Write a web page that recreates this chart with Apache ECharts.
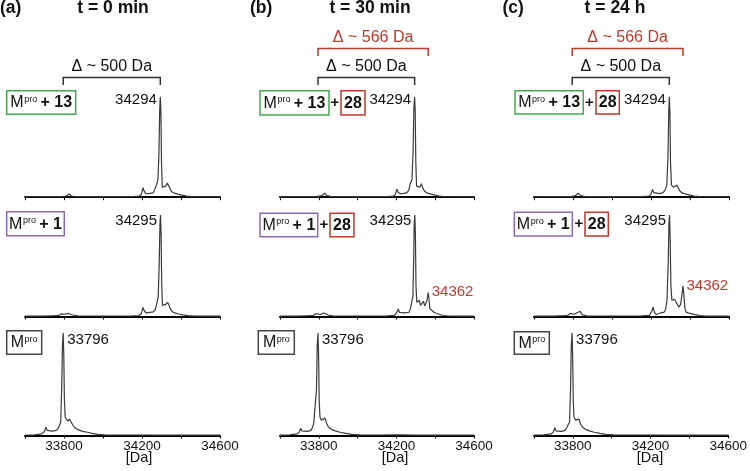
<!DOCTYPE html>
<html><head><meta charset="utf-8">
<script src="https://cdn.jsdelivr.net/npm/echarts@6/dist/echarts.min.js"></script>
<style>html,body{margin:0;padding:0;background:#fff}#c{width:750px;height:471px}</style>
</head><body><div id="c"></div><script>
// ---------- data ----------
const massMin = 33600, massMax = 34600, massStep = 200;
const massTickLabels = [33800, 34200, 34600];
const panelLetters = ['(a)', '(b)', '(c)'];
const columnTitles = ['t = 0 min', 't = 30 min', 't = 24 h'];
const mainPeakMasses = [34294, 34295, 33796];
const sidePeakMass = 34364;
const sidePeakLabel = '34362';
const delta500 = 'Δ ~ 500 Da';
const delta566 = 'Δ ~ 566 Da';

// t = 0 min
const specA1 = [[33600,0.4],[33700,0.5],[33790,0.6],[33812,1.2],[33826,3.2],[33838,1.2],[33860,0.6],[33950,0.5],[34050,0.5],[34150,0.6],[34185,1],[34197,3],[34205,9.5],[34211,6],[34220,3.5],[34240,3.8],[34258,4.3],[34268,6],[34276,13],[34282,18],[34287,45],[34291,88],[34294,100],[34297,85],[34300,35],[34304,10],[34312,9],[34322,11],[34330,14],[34336,13],[34343,9],[34352,5.5],[34366,4],[34385,3],[34405,2],[34430,1],[34460,0.5],[34520,0.4],[34600,0.3]];
const specA2 = [[33600,0.4],[33700,0.5],[33770,0.8],[33785,2.5],[33792,3.5],[33805,2.2],[33822,3],[33832,3.5],[33845,1.5],[33870,0.7],[33950,0.5],[34050,0.5],[34150,0.6],[34185,1],[34197,3],[34205,9],[34211,6],[34220,3.5],[34240,4],[34258,4.5],[34268,6.5],[34277,14],[34283,19],[34288,50],[34292,90],[34295,100],[34298,82],[34301,33],[34305,11],[34313,10],[34322,12],[34331,14],[34337,12],[34344,8],[34354,5],[34368,3.5],[34388,2.5],[34410,1.6],[34435,0.8],[34470,0.5],[34600,0.3]];
const specA3 = [[33600,0.4],[33650,0.7],[33685,1.5],[33700,4],[33708,8],[33714,5],[33722,3.8],[33740,4.2],[33760,5],[33770,7],[33777,10],[33783,13],[33788,45],[33792,88],[33796,100],[33799,78],[33802,35],[33806,18],[33812,16],[33820,14],[33828,16],[33838,15],[33846,10],[33858,7],[33875,5.5],[33895,4],[33920,3.2],[33945,2],[33975,1.1],[34010,0.6],[34100,0.5],[34200,0.5],[34300,0.4],[34600,0.3]];
// t = 30 min
const specB1 = [[33600,0.4],[33700,0.5],[33790,0.6],[33815,1.5],[33830,4],[33842,1.5],[33865,0.6],[33950,0.5],[34050,0.5],[34150,0.6],[34185,1],[34195,3],[34202,8],[34209,5],[34220,3.5],[34240,3.8],[34254,4.5],[34264,7],[34272,14],[34280,17],[34286,45],[34290,88],[34294,100],[34297,85],[34300,35],[34304,11],[34313,12.5],[34321,10],[34329,13.5],[34336,9],[34345,6],[34360,4],[34380,3],[34400,2],[34420,1],[34450,0.5],[34600,0.3]];
const specB2 = [[33600,0.4],[33700,0.5],[33770,0.8],[33785,2.8],[33795,3.5],[33808,2],[33825,3.5],[33835,4],[33848,1.5],[33870,0.7],[33950,0.5],[34050,0.5],[34150,0.6],[34190,1.2],[34202,4],[34210,7.5],[34216,4],[34224,2.8],[34245,3.5],[34265,4.2],[34273,8],[34279,14],[34285,20],[34289,55],[34292,92],[34295,100],[34298,80],[34301,30],[34305,14],[34310,13],[34318,16],[34324,11],[34330,11],[34339,15],[34346,10.5],[34352,10],[34358,16],[34364,23.5],[34368,18],[34372,8],[34379,6.5],[34395,4],[34416,2.5],[34440,1],[34470,0.5],[34600,0.3]];
const specB3 = [[33600,0.4],[33650,0.7],[33688,1.5],[33700,3.5],[33707,7],[33713,4.5],[33722,3.5],[33742,4],[33760,5],[33768,8],[33774,12],[33782,13],[33788,45],[33792,88],[33796,100],[33799,78],[33802,35],[33806,18],[33814,15],[33824,16],[33832,17],[33840,12],[33850,8],[33865,6],[33885,4.5],[33910,3.2],[33940,2],[33970,1.1],[34010,0.6],[34100,0.5],[34195,0.6],[34205,1.5],[34215,0.6],[34300,0.4],[34600,0.3]];
// t = 24 h
const specC1 = [[33600,0.4],[33700,0.5],[33790,0.6],[33812,1.5],[33827,4],[33840,1.5],[33862,0.6],[33950,0.5],[34050,0.5],[34150,0.6],[34190,1],[34200,3],[34208,7.7],[34215,4.5],[34225,3.2],[34245,3.5],[34262,4.5],[34272,7],[34281,12],[34287,40],[34291,85],[34294,100],[34297,85],[34300,35],[34305,12],[34315,10],[34324,11],[34332,12],[34340,9],[34349,6],[34362,4],[34380,3],[34400,2],[34420,1],[34450,0.5],[34600,0.3]];
const specC2 = [[33600,0.4],[33700,0.5],[33770,0.8],[33786,3],[33794,4],[33806,2.2],[33824,4],[33836,5],[33848,1.6],[33870,0.7],[33950,0.5],[34050,0.5],[34150,0.6],[34192,1.2],[34203,5],[34211,9.3],[34218,4],[34226,2],[34250,3.5],[34268,4.3],[34276,8],[34282,16],[34288,50],[34292,92],[34295,100],[34298,80],[34302,30],[34307,16],[34313,16],[34320,17],[34328,18.7],[34335,12],[34342,9.3],[34352,12],[34359,22],[34364,30],[34369,20],[34374,8],[34380,4.3],[34400,3],[34425,1.8],[34451,1],[34480,0.5],[34600,0.3]];
const specC3 = [[33600,0.4],[33650,0.7],[33688,1.5],[33700,3.5],[33707,7.5],[33713,4.5],[33722,3.5],[33742,4],[33760,5],[33770,8],[33777,11],[33783,13],[33788,45],[33792,88],[33796,100],[33799,78],[33802,35],[33806,18],[33814,15],[33824,15],[33832,16],[33840,11],[33850,8],[33865,6],[33885,4.5],[33910,3.2],[33940,2],[33970,1.1],[34010,0.6],[34100,0.5],[34200,0.5],[34300,0.4],[34600,0.3]];

const spectra = [[specA1, specA2, specA3], [specB1, specB2, specB3], [specC1, specC2, specC3]];

// ---------- layout ----------
const F = 'Liberation Sans, Arial, Helvetica, sans-serif';
const colLeft = [25, 280, 534];
const colWidth = [195, 194, 195];
const rowTop = [96.7, 215, 333];
const rowHeight = [100.5, 101.5, 102.5];
const RED = '#c0392b', GREEN = '#43a84f', PURPLE = '#8a68b8', GREY = '#444';

const chart = echarts.init(document.getElementById('c'), null, {renderer: 'canvas'});
const grids = [], xAxes = [], yAxes = [], series = [];
for (let c = 0; c < 3; c++) {
  for (let r = 0; r < 3; r++) {
    const i = c * 3 + r;
    grids.push({left: colLeft[c], top: rowTop[r], width: colWidth[c], height: rowHeight[r], containLabel: false});
    xAxes.push({
      type: 'value', gridIndex: i, min: massMin, max: massMax, interval: massStep,
      axisLine: {show: true, onZero: false, lineStyle: {color: '#000', width: 2}},
      axisTick: {show: true, inside: false, length: 3, lineStyle: {color: '#000', width: 1}},
      splitLine: {show: false},
      axisLabel: {show: r === 2, margin: 4, color: '#111', fontSize: 13.5, fontFamily: F,
        showMinLabel: true, showMaxLabel: true,
        formatter: v => massTickLabels.indexOf(v) >= 0 ? String(v) : ''}
    });
    yAxes.push({type: 'value', gridIndex: i, min: 0, max: 100, show: false});
    series.push({type: 'line', xAxisIndex: i, yAxisIndex: i, data: spectra[c][r],
      symbol: 'none', showSymbol: false, smooth: false, silent: true,
      lineStyle: {color: '#3a3a3a', width: 1.2}});
  }
}
chart.setOption({animation: false, backgroundColor: '#fff', grid: grids, xAxis: xAxes, yAxis: yAxes, series: series});

// ---------- annotations ----------
const px = (i, m) => chart.convertToPixel({xAxisIndex: i}, m);
const py = (i, v) => chart.convertToPixel({yAxisIndex: i}, v);
const g = [];
function text(x, y, t, o) {
  g.push({type: 'text', x: x, y: y, silent: true, style: Object.assign({text: t, fontFamily: F, fontSize: 15, fill: '#111', align: 'center', verticalAlign: 'middle'}, o || {})});
}
function bracket(x1, x2, y, color) {
  g.push({type: 'polyline', silent: true, shape: {points: [[x1, y + 7.5], [x1, y], [x2, y], [x2, y + 7.5]]}, style: {stroke: color, lineWidth: 1.5, fill: null}});
}
function box(x, y, w, h, color, t) {
  g.push({type: 'rect', silent: true, shape: {x: x, y: y, width: w, height: h}, style: {stroke: color, lineWidth: 1.5, fill: null}});
  g.push({type: 'text', silent: true, x: x + w / 2, y: y + h / 2 + 0.5, style: {
    text: t, align: 'center', verticalAlign: 'middle', fontFamily: F,
    rich: {
      m: {fontSize: 16, fontFamily: F, fill: '#111', lineHeight: 18, verticalAlign: 'middle'},
      s: {fontSize: 9, fontFamily: F, fill: '#111', lineHeight: 18, verticalAlign: 'top', padding: [1, 0, 0, 0.5]},
      sp: {fontSize: 12, fontFamily: F, lineHeight: 18, verticalAlign: 'middle'},
      b: {fontSize: 16, fontFamily: F, fill: '#111', fontWeight: 'bold', lineHeight: 18, verticalAlign: 'middle'}
    }}});
}
function plus(x, y) { text(x, y, '+', {fontSize: 15, fontWeight: 'bold'}); }

const M13 = '{m|M}{s|pro}{sp| }{b|+ 13}', M1 = '{m|M}{s|pro}{sp| }{b|+ 1}', M0 = '{m|M}{s|pro}';
const R28 = '{b|28}';
const boxes = [
  // col a
  [[6.7, 90.7, 69, 23.6, GREEN, M13]], [[6.7, 211.7, 57.6, 24, PURPLE, M1]], [[6.7, 330.7, 35, 23.5, GREY, M0]],
  // col b
  [[260, 90.7, 69, 24.3, GREEN, M13], [341, 90.7, 24, 24.3, RED, R28]],
  [[260, 213.3, 57.7, 23.4, PURPLE, M1], [330, 213.3, 24, 23.4, RED, R28]],
  [[258.3, 330.7, 36, 23.6, GREY, M0]],
  // col c
  [[515, 90.7, 68.3, 23.3, GREEN, M13], [596, 90.7, 23.3, 23.3, RED, R28]],
  [[514.3, 212.3, 58, 23.7, PURPLE, M1], [585, 212.3, 23.3, 23.7, RED, R28]],
  [[514.3, 331.7, 35, 22.6, GREY, M0]]
];
boxes.forEach(list => list.forEach(b => box(b[0], b[1], b[2], b[3], b[4], b[5])));
plus(335, 103); plus(324, 225); plus(589.5, 102.5); plus(579, 224);

const titleX = [113, 370, 615];
const letterX = [0, 250, 502.5];
const daX = [139, 395, 650];
for (let c = 0; c < 3; c++) {
  text(letterX[c], 8, panelLetters[c], {fontSize: 17.5, fontWeight: 'bold', align: 'left'});
  text(titleX[c], 8, columnTitles[c], {fontSize: 17.5, fontWeight: 'bold'});
  text(daX[c], 457.5, '[Da]', {fontSize: 14.5});
  const i1 = c * 3, i2 = c * 3 + 1, i3 = c * 3 + 2;
  // brackets
  const xl = px(i1, mainPeakMasses[2]), xr = px(i1, mainPeakMasses[0]);
  bracket(xl, xr, 77.5, '#333');
  text((xl + xr) / 2, 66.5, delta500, {fontSize: 16});
  if (c > 0) {
    const xr2 = px(i2, sidePeakMass);
    bracket(xl, xr2, 48.5, RED);
    text((xl + xr2) / 2, 37.5, delta566, {fontSize: 16, fill: RED});
    const sp = spectra[c][1].find(d => d[0] === sidePeakMass);
    text(xr2 + 3.5, py(i2, sp[1]) - 0.5, sidePeakLabel, {fontSize: 15, fill: RED, align: 'left'});
  }
  // peak labels
  text(px(i1, mainPeakMasses[0]) - 3.5, 100, String(mainPeakMasses[0]), {fontSize: 15, align: 'right'});
  text(px(i2, mainPeakMasses[1]) - 3.5, 221, String(mainPeakMasses[1]), {fontSize: 15, align: 'right'});
  text(px(i3, mainPeakMasses[2]) + 4, 340, String(mainPeakMasses[2]), {fontSize: 15, align: 'left'});
}
chart.setOption({graphic: {elements: g}});
</script></body></html>
